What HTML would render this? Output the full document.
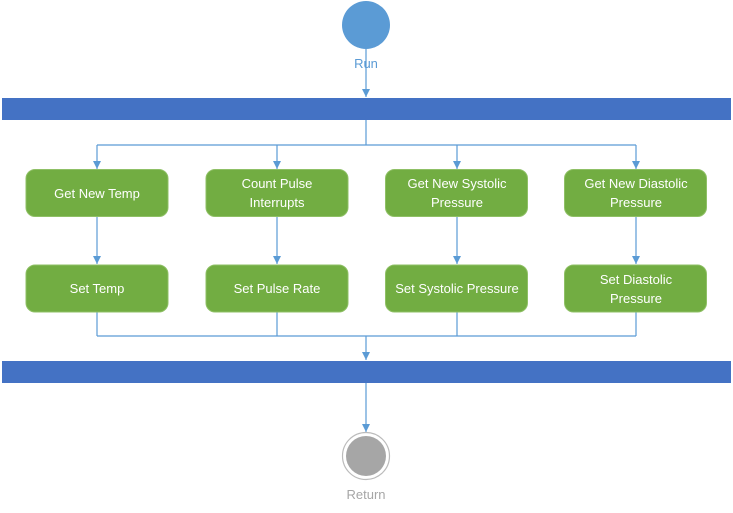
<!DOCTYPE html>
<html><head><meta charset="utf-8"><style>
html,body{margin:0;padding:0;background:#fff;}
svg{display:block;}
text{font-family:"Liberation Sans",sans-serif;font-size:13px;}
</style></head><body>
<svg width="733" height="513" viewBox="0 0 733 513" xmlns="http://www.w3.org/2000/svg">
<defs><marker id="a" markerWidth="10" markerHeight="10" refX="8" refY="4" orient="auto" markerUnits="userSpaceOnUse"><path d="M0,0 L8,4 L0,8 Z" fill="#5b9bd5"/></marker></defs>
<circle cx="366" cy="25" r="24" fill="#5b9bd5"/>
<text x="366" y="68" text-anchor="middle" fill="#5b9bd5">Run</text>
<g stroke="#5b9bd5" stroke-width="1.2" fill="none">
<line x1="366" y1="49" x2="366" y2="97" marker-end="url(#a)"/>
<line x1="366" y1="120" x2="366" y2="145"/>
<line x1="97" y1="145" x2="636" y2="145"/>
<line x1="97" y1="145" x2="97" y2="169" marker-end="url(#a)"/>
<line x1="277" y1="145" x2="277" y2="169" marker-end="url(#a)"/>
<line x1="457" y1="145" x2="457" y2="169" marker-end="url(#a)"/>
<line x1="636" y1="145" x2="636" y2="169" marker-end="url(#a)"/>
<line x1="97" y1="217" x2="97" y2="264" marker-end="url(#a)"/>
<line x1="277" y1="217" x2="277" y2="264" marker-end="url(#a)"/>
<line x1="457" y1="217" x2="457" y2="264" marker-end="url(#a)"/>
<line x1="636" y1="217" x2="636" y2="264" marker-end="url(#a)"/>
<line x1="97" y1="312" x2="97" y2="336"/>
<line x1="277" y1="312" x2="277" y2="336"/>
<line x1="457" y1="312" x2="457" y2="336"/>
<line x1="636" y1="312" x2="636" y2="336"/>
<line x1="97" y1="336" x2="636" y2="336"/>
<line x1="366" y1="336" x2="366" y2="360" marker-end="url(#a)"/>
<line x1="366" y1="383" x2="366" y2="432" marker-end="url(#a)"/>
</g>
<rect x="2" y="98" width="729" height="22" fill="#4472c4"/>
<rect x="2" y="361" width="729" height="22" fill="#4472c4"/>
<g fill="#72ad42" stroke="#8fc066" stroke-width="1">
<rect x="26" y="169.5" width="142" height="47" rx="9"/>
<rect x="206" y="169.5" width="142" height="47" rx="9"/>
<rect x="385.5" y="169.5" width="142" height="47" rx="9"/>
<rect x="564.5" y="169.5" width="142" height="47" rx="9"/>
<rect x="26" y="265" width="142" height="47" rx="9"/>
<rect x="206" y="265" width="142" height="47" rx="9"/>
<rect x="385.5" y="265" width="142" height="47" rx="9"/>
<rect x="564.5" y="265" width="142" height="47" rx="9"/>
</g>
<g fill="#fff" text-anchor="middle">
<text x="97" y="198">Get New Temp</text>
<text x="277" y="188">Count Pulse</text><text x="277" y="207">Interrupts</text>
<text x="457" y="188">Get New Systolic</text><text x="457" y="207">Pressure</text>
<text x="636" y="188">Get New Diastolic</text><text x="636" y="207">Pressure</text>
<text x="97" y="293">Set Temp</text>
<text x="277" y="293">Set Pulse Rate</text>
<text x="457" y="293">Set Systolic Pressure</text>
<text x="636" y="284">Set Diastolic</text><text x="636" y="303">Pressure</text>
</g>
<circle cx="366" cy="456" r="23.5" fill="#fff" stroke="#bbb" stroke-width="1.2"/>
<circle cx="366" cy="456" r="20" fill="#a6a6a6"/>
<text x="366" y="499" text-anchor="middle" fill="#a6a6a6">Return</text>
</svg>
</body></html>
